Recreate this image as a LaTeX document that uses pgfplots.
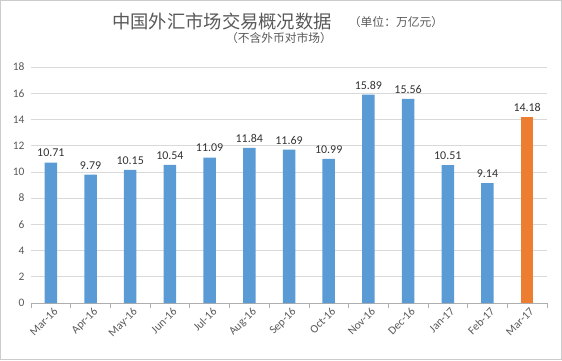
\documentclass[border=0pt]{standalone}
\usepackage{pgfplots}
\pgfplotsset{compat=1.18}
\usepackage{fontspec}
\setmainfont{Carlito}
\newfontfamily\cjk{Noto Sans CJK SC}
\definecolor{barblue}{HTML}{5B9BD5}
\definecolor{barorange}{HTML}{ED7D31}
\definecolor{txtgray}{HTML}{595959}
\definecolor{gridgray}{HTML}{D9D9D9}
\begin{document}
\begin{tikzpicture}[x=1bp,y=1bp]
\path[draw=gray!40, line width=1bp] (0.5,0.5) rectangle (561.5,359.5);
\node[font=\cjk\fontsize{18.4}{20}\selectfont, text=txtgray] at (222,339) {中国外汇市场交易概况数据};
\node[font=\cjk\fontsize{11.8}{13}\selectfont, text=txtgray] at (396,338) {（单位：万亿元）};
\node[font=\cjk\fontsize{11.8}{13}\selectfont, text=txtgray] at (279,322) {（不含外币对市场）};
\begin{axis}[
  at={(31bp,57bp)}, anchor=south west,
  scale only axis, width=516bp, height=236bp,
  xmin=-0.5, xmax=12.5, ymin=0, ymax=18,
  ytick={0,2,...,18},
  xtick={0,...,12},
  xticklabels={Mar-16,Apr-16,May-16,Jun-16,Jul-16,Aug-16,Sep-16,Oct-16,Nov-16,Dec-16,Jan-17,Feb-17,Mar-17},
  minor xtick={-0.5,0.5,...,12.5},
  major tick length=0pt,
  minor tick length=5bp,
  tick align=outside,
  tick style={gridgray!80!black, line width=0.6bp},
  axis x line*=bottom,
  axis y line*=left,
  y axis line style={draw=none},
  x axis line style={gridgray!80!black, line width=0.8bp},
  ymajorgrids, grid style={gridgray, line width=0.6bp},
  yticklabel style={font=\fontsize{11.5}{13}\selectfont, text=txtgray, xshift=-3bp},
  xticklabel style={font=\fontsize{11.5}{13}\selectfont, text=txtgray, rotate=45, anchor=north east, inner sep=1bp, yshift=-3bp},
  ybar, bar width=12.5bp, bar shift=0pt,
  nodes near coords,
  nodes near coords style={font=\fontsize{12}{14}\selectfont, text=black!80, yshift=2bp, /pgf/number format/fixed, /pgf/number format/precision=2, /pgf/number format/fixed zerofill, /pgf/number format/assume math mode=true},
  /pgf/number format/assume math mode=true,
  clip=false,
]
\addplot+[fill=barblue, draw=none] coordinates {(0,10.71) (1,9.79) (2,10.15) (3,10.54) (4,11.09) (5,11.84) (6,11.69) (7,10.99) (8,15.89) (9,15.56) (10,10.51) (11,9.14)};
\addplot+[fill=barorange, draw=none] coordinates {(12,14.18)};
\end{axis}
\end{tikzpicture}
\end{document}
